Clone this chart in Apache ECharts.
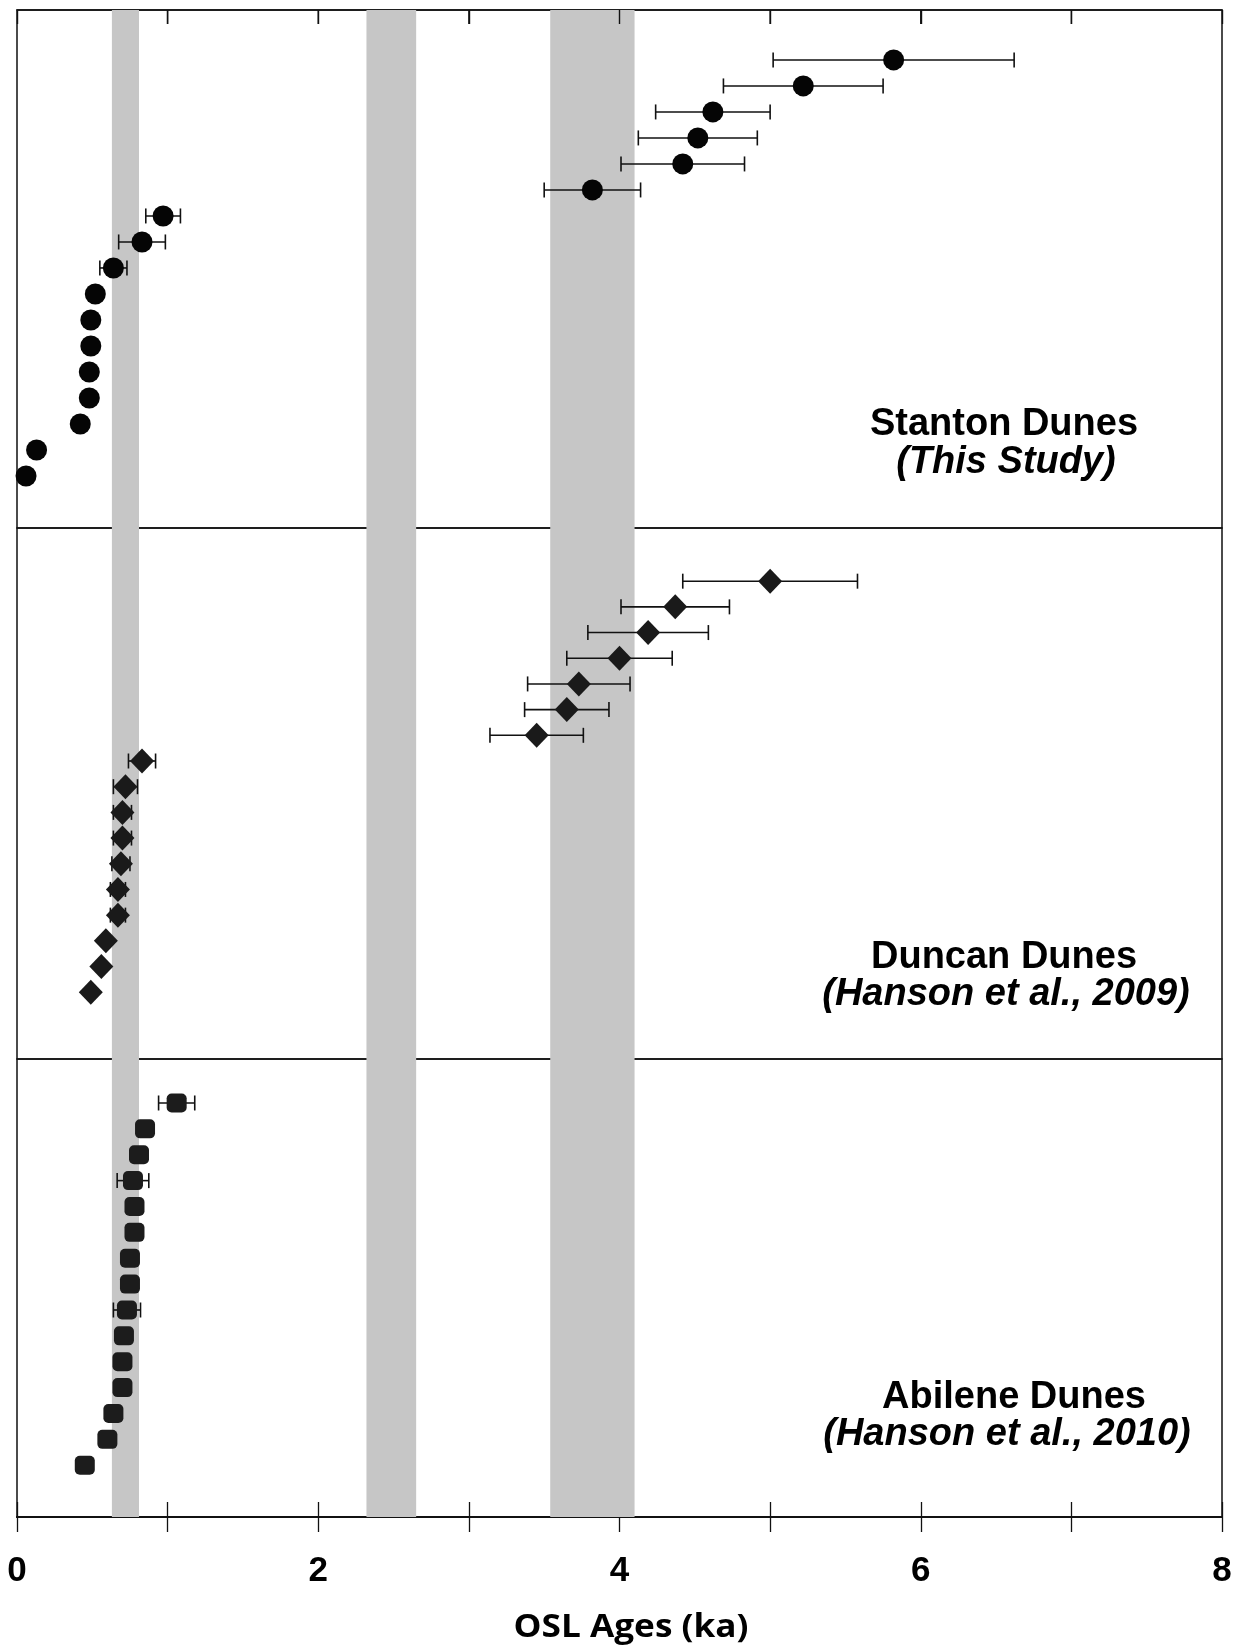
<!DOCTYPE html>
<html><head><meta charset="utf-8">
<script src="https://cdn.jsdelivr.net/npm/echarts@6/dist/echarts.min.js"></script>
<style>html,body{margin:0;padding:0;background:#fff}#c{width:1243px;height:1652px}</style>
</head><body><div id="c"></div>
<script>
// OSL ages (ka) sorted youngest (bottom) to oldest (top), with 1-sigma errors
const stantonAges = [0.06,0.13,0.42,0.48,0.48,0.49,0.49,0.52,0.64,0.83,0.97,3.82,4.42,4.52,4.62,5.22,5.82];
const stantonErr  = [0,0,0,0,0,0,0,0,0.09,0.155,0.115,0.32,0.41,0.395,0.38,0.53,0.80];
const duncanAges  = [0.49,0.56,0.59,0.67,0.67,0.69,0.70,0.70,0.72,0.83,3.45,3.65,3.73,4.00,4.19,4.37,5.00];
const duncanErr   = [0,0,0,0.05,0.05,0.06,0.06,0.06,0.08,0.09,0.31,0.28,0.34,0.35,0.40,0.36,0.58];
const abileneAges = [0.45,0.60,0.64,0.70,0.70,0.71,0.73,0.75,0.75,0.78,0.78,0.77,0.81,0.85,1.06];
const abileneErr  = [0,0,0,0,0,0,0.09,0,0,0,0,0.105,0,0,0.12];
const bands = [[0.63,0.81],[2.32,2.65],[3.54,4.10]];
const xLabels = ['0','','2','','4','','6','','8'];
const topTicks = [1,2,3,4,5,6,7];
const siteNames = ['Stanton Dunes','Duncan Dunes','Abilene Dunes'];
const siteRefs = ['(This Study)','(Hanson et al., 2009)','(Hanson et al., 2010)'];

const chart = echarts.init(document.getElementById('c'), null, {renderer:'canvas'});
const L = 17, R = 21;
const grids = [
  {left:L, right:R, top:10, height:518},
  {left:L, right:R, top:528, height:531},
  {left:L, right:R, top:1059, height:458}
].map(g => Object.assign(g, {show:true, borderColor:'#111', borderWidth:1.5, backgroundColor:'transparent'}));

const yRanges = [[-1,18.92],[-1.6,19.07],[-1,16.7]];
const yAxes = yRanges.map((r,i)=>({type:'value', gridIndex:i, min:r[0], max:r[1], show:false}));

const xBase = {type:'value', min:0, max:8, interval:1, splitLine:{show:false}};
const xAxes = [
  Object.assign({}, xBase, {gridIndex:0, position:'top',
    axisLine:{show:true, onZero:false, lineStyle:{color:'#111', width:1.5}},
    axisTick:{show:false}, axisLabel:{show:false}}),
  Object.assign({}, xBase, {gridIndex:1, show:false, axisLine:{onZero:false}}),
  Object.assign({}, xBase, {gridIndex:2, position:'bottom',
    axisLine:{show:true, onZero:false, lineStyle:{color:'#111', width:2}},
    axisTick:{show:true, inside:false, length:15, lineStyle:{color:'#111', width:1.3}},
    axisLabel:{show:true, margin:37, color:'#000', fontSize:35, fontWeight:'bold',
      fontFamily:"'Liberation Sans', Arial, sans-serif",
      formatter:(v)=>xLabels[Math.round(v)] || ''}}),
  Object.assign({}, xBase, {gridIndex:2, position:'bottom', offset:0,
    axisLine:{show:true, onZero:false, lineStyle:{color:'#111', width:2}},
    axisTick:{show:true, inside:true, length:15, lineStyle:{color:'#111', width:1.3}},
    axisLabel:{show:false}}),
  // frame ticks along the top edge of the upper panel (bottom-type axis lifted to the top edge)
  Object.assign({}, xBase, {gridIndex:0, position:'bottom', offset:-518,
    axisLine:{show:false, onZero:false},
    axisTick:{show:true, inside:false, length:14, lineStyle:{color:'#111', width:1.4}},
    axisLabel:{show:false}})
];

function bandSeries(i){
  return {type:'scatter', xAxisIndex: i===2?2:i, yAxisIndex:i, data:[], silent:true, z:1,
    markArea:{silent:true, itemStyle:{color:'#c6c6c6'},
      data: bands.map(b=>[{xAxis:b[0]},{xAxis:b[1]}])}};
}
function errSeries(ages, errs, i){
  const data = [];
  ages.forEach((a,k)=>{ if(errs[k]>0) data.push([a, k+1, errs[k]]); });
  return {type:'custom', xAxisIndex: i===2?2:i, yAxisIndex:i, z:3, silent:true,
    encode:{x:0, y:1}, data,
    renderItem(params, api){
      const a=api.value(0), r=api.value(1), e=api.value(2);
      const p1=api.coord([a-e,r]), p2=api.coord([a+e,r]);
      const h=7.5, st={stroke:'#111', lineWidth:1.6};
      return {type:'group', children:[
        {type:'line', shape:{x1:p1[0],y1:p1[1],x2:p2[0],y2:p2[1]}, style:st},
        {type:'line', shape:{x1:p1[0],y1:p1[1]-h,x2:p1[0],y2:p1[1]+h}, style:st},
        {type:'line', shape:{x1:p2[0],y1:p2[1]-h,x2:p2[0],y2:p2[1]+h}, style:st}]};
    }};
}
function ptSeries(ages, i, symbol, size, color){
  return {type:'scatter', xAxisIndex: i===2?2:i, yAxisIndex:i, z:5, silent:true,
    symbol, symbolSize:size, itemStyle:{color, opacity:1},
    data: ages.map((a,k)=>[a, k+1])};
}
// inward tick marks hanging from the top frame, placed through the top panel's x scale
const topTickSeries = {type:'custom', xAxisIndex:0, yAxisIndex:0, z:4, silent:true,
  encode:{x:0, y:1}, data: topTicks.map(v=>[v, yRanges[0][1]]),
  renderItem(params, api){
    const p = api.coord([api.value(0), api.value(1)]);
    return {type:'line', shape:{x1:p[0], y1:p[1], x2:p[0], y2:p[1]+14},
      style:{stroke:'#111', lineWidth:1.4}};
  }};

const labelFont = "'Liberation Sans', Arial, sans-serif";
// [nameX, nameY, refX, refY]
const labelPos = [[1004,425,1006,463],[1004,958,1006,995],[1014,1398,1007,1435]];
const graphics = [];
labelPos.forEach((p,i)=>{
  graphics.push({type:'text', x:p[0], y:p[1], style:{text:siteNames[i], x:0, y:0, align:'center', verticalAlign:'middle',
    font:"bold 38px "+labelFont, fill:'#000'}});
  graphics.push({type:'text', x:p[2], y:p[3], style:{text:siteRefs[i], x:0, y:0, align:'center', verticalAlign:'middle',
    font:"italic bold 38px "+labelFont, fill:'#000'}});
});
graphics.push({type:'text', x:631, y:1628, scaleX:1.1, style:{text:'OSL Ages (ka)', x:0, y:0, align:'center', verticalAlign:'middle',
  font:"bold 32px 'Open Sans', 'Liberation Sans', sans-serif", fill:'#000'}});

chart.setOption({
  animation:false,
  backgroundColor:'#fff',
  grid: grids,
  xAxis: xAxes,
  yAxis: yAxes,
  graphic: graphics,
  series: [
    bandSeries(0), bandSeries(1), bandSeries(2),
    topTickSeries,
    errSeries(stantonAges, stantonErr, 0),
    errSeries(duncanAges, duncanErr, 1),
    errSeries(abileneAges, abileneErr, 2),
    ptSeries(stantonAges, 0, 'circle', 21, '#050505'),
    ptSeries(duncanAges, 1, 'diamond', [24,25], '#1a1a1a'),
    ptSeries(abileneAges, 2, 'roundRect', [20,19], '#1c1c1c')
  ]
});
</script></body></html>
